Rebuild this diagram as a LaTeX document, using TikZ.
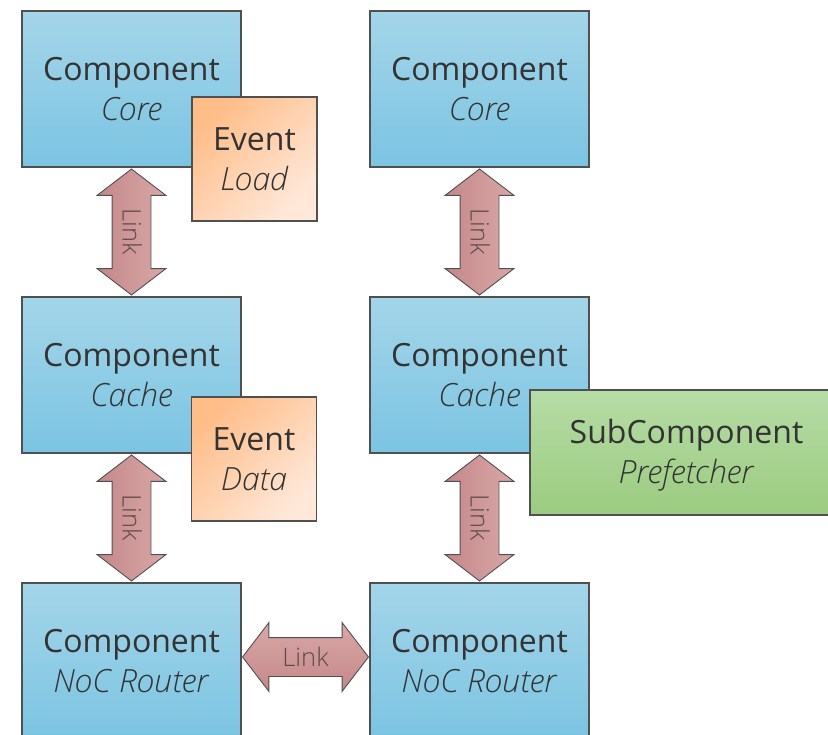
\documentclass[tikz,border=0pt]{standalone}
\usepackage{fontspec}
\setmainfont{Open Sans}[ItalicFont={Open Sans Light Italic}]
\newfontfamily\linkfont{Open Sans Light}
\usetikzlibrary{shapes.arrows,calc}

\definecolor{edge}{HTML}{505050}
\definecolor{ink}{HTML}{333333}
\definecolor{blueTop}{HTML}{A4D5E9}
\definecolor{blueBot}{HTML}{7BC4E2}
\definecolor{orangeA}{HTML}{FFBD88}
\definecolor{orangeB}{HTML}{FFE8DA}
\definecolor{greenTop}{HTML}{B6DCA6}
\definecolor{greenBot}{HTML}{9BCB80}
\definecolor{linkDark}{HTML}{C4878A}
\definecolor{linkLight}{HTML}{D9A8A6}
\definecolor{linkText}{HTML}{5A4B4B}

\tikzset{
  boxbase/.style={draw=edge, line width=1.3pt, align=center, inner sep=0pt,
    text=ink, font=\fontsize{32}{40}\selectfont},
  comp/.style={boxbase, minimum width=219pt, minimum height=156pt,
    top color=blueTop, bottom color=blueBot},
  eventbox/.style={boxbase, minimum width=125pt, minimum height=124pt,
    top color=orangeA, bottom color=orangeB, shading angle=45},
  subbox/.style={boxbase, minimum width=313pt, minimum height=125pt,
    top color=greenTop, bottom color=greenBot},
  linkarrow/.style={shape=double arrow, draw=edge, line width=0.9pt,
    double arrow head extend=15pt, double arrow tip angle=105,
    minimum height=126pt, inner xsep=0pt, inner ysep=10pt,
    text height=18pt, text depth=0pt, text=linkText,
    font=\linkfont\fontsize{25.5}{25.5}\selectfont},
  vlink/.style={linkarrow, rotate=-90, left color=linkDark, right color=linkLight},
  hlink/.style={linkarrow, top color=linkLight, bottom color=linkDark}
}

\begin{document}
\begin{tikzpicture}[x=1pt,y=-1pt]
\useasboundingbox (0,0) rectangle (828,735);

% components
\node[comp] (core1)  at (131.5,89)  {Component\\\textit{Core}};
\node[comp] (core2)  at (479.5,89)  {Component\\\textit{Core}};
\node[comp] (cache1) at (131.5,375) {Component\\\textit{Cache}};
\node[comp] (cache2) at (479.5,375) {Component\\\textit{Cache}};
\node[comp] (noc1)   at (131.5,661) {Component\\\textit{NoC Router}};
\node[comp] (noc2)   at (479.5,661) {Component\\\textit{NoC Router}};

% events and subcomponent
\node[eventbox] (load) at (254.5,159) {Event\\\textit{Load}};
\node[eventbox] (data) at (254,459)   {Event\\\textit{Data}};
\node[subbox] (pref) at (686.5,452.5) {};
\node[text=ink, align=center, font=\fontsize{32}{40}\selectfont] (preftext)
  at ($(pref.center)+(0,3)$) {SubComponent\\\textit{Prefetcher}};

% links
\node[vlink] (l1) at ($(core1.south)!0.5!(cache1.north)$) {Link};
\node[vlink] (l2) at ($(core2.south)!0.5!(cache2.north)$) {Link};
\node[vlink] (l3) at ($(cache1.south)!0.5!(noc1.north)$) {Link};
\node[vlink] (l4) at ($(cache2.south)!0.5!(noc2.north)$) {Link};
\node[hlink] (l5) at ($(noc1.east)!0.5!(noc2.west)+(0,-4)$) {Link};
\end{tikzpicture}
\end{document}
